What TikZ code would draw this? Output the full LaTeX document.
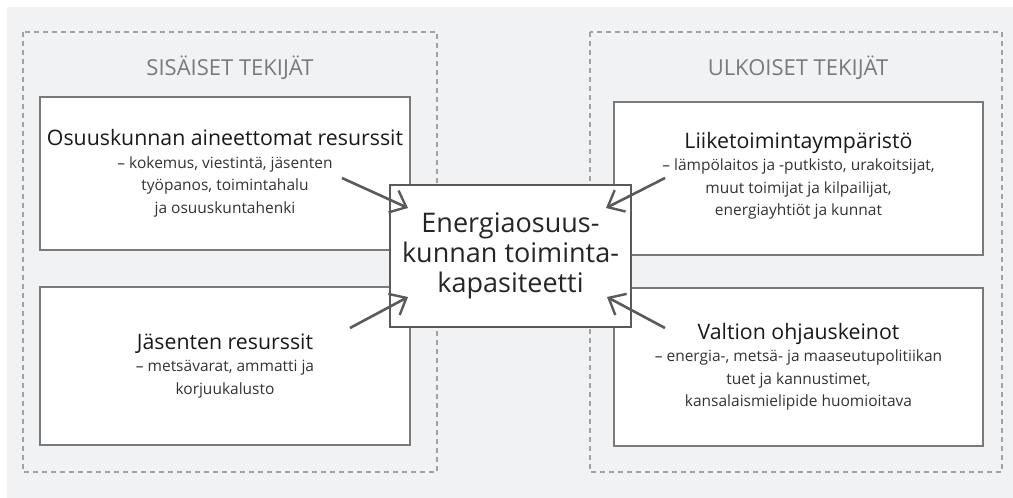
\documentclass[tikz,border=0pt]{standalone}
\usepackage{fontspec}
\setmainfont{Open Sans}
\usepackage{tikz}
\usetikzlibrary{positioning,arrows.meta}
\definecolor{panelgray}{HTML}{F1F2F4}
\definecolor{dashgray}{HTML}{A2A2A2}
\definecolor{boxgray}{HTML}{7A7A7A}
\definecolor{arrowgray}{HTML}{5A5A5A}
\definecolor{textgray}{HTML}{333333}
\tikzset{
  % --- frames ------------------------------------------------------------------
  group/.style={draw=dashgray,line width=1.2pt,dash pattern=on 5pt off 4pt},
  grouplab/.style={font=\fontsize{22}{24}\selectfont,text=boxgray,inner sep=0pt},
  % --- factor boxes ----------------------------------------------------------
  factorbox/.style={rectangle,draw=boxgray,line width=1.3pt,fill=white,
                    align=center,inner sep=0pt,text=textgray,
                    font=\fontsize{15.5}{22.5}\selectfont},
  core/.style={rectangle,draw=arrowgray,line width=1.5pt,fill=white,
               align=center,inner sep=0pt,text=black!85,
               minimum width=241pt,minimum height=142pt,
               font=\fontsize{27}{30}\selectfont},
  % --- influences ------------------------------------------------------------
  infl/.style={-{Straight Barb[length=14pt,width=24pt,line width=2.4pt]},
               arrowgray,line width=2.6pt},
}
\newcommand{\ftitle}[1]{{\fontsize{21.3}{25}\selectfont\color{black!90}#1}\\}

\begin{document}
\begin{tikzpicture}[x=1pt,y=-1pt]
  \useasboundingbox (0,0) rectangle (1013,498);
  \fill[panelgray] (7,7) rectangle (1013,498);

  \draw[group] (23,32) rectangle (437,472);
  \draw[group] (590,32) rectangle (1002,472);
  \node[grouplab] (sislab) at (230,68) {SISÄISET TEKIJÄT};
  \node[grouplab] (ulklab) at (798,68) {ULKOISET TEKIJÄT};

  \node[factorbox,minimum width=370pt,minimum height=153pt] (aineet) at (225,173.5)
    {\ftitle{Osuuskunnan aineettomat resurssit}%
     – kokemus, viestintä, jäsenten\\työpanos, toimintahalu\\ja osuuskuntahenki};
  \node[factorbox,minimum width=370pt,minimum height=158pt] (jasen) at (225,366)
    {\ftitle{Jäsenten resurssit}%
     – metsävarat, ammatti ja\\korjuukalusto};
  \node[factorbox,minimum width=369pt,minimum height=153pt] (liike) at (798.5,178.5)
    {\mbox{}\\[-12pt]\ftitle{Liiketoimintaympäristö}%
     – lämpölaitos ja -putkisto, urakoitsijat,\\muut toimijat ja kilpailijat,\\energiayhtiöt ja kunnat};
  \node[factorbox,minimum width=369pt,minimum height=158pt] (valtio) at (798.5,367)
    {\ftitle{Valtion ohjauskeinot}%
     – energia-, metsä- ja maaseutupolitiikan\\tuet ja kannustimet,\\kansalaismielipide huomioitava};

  \node[core] (kapa) at (510.5,256) {Energiaosuus-\\kunnan toiminta-\\kapasiteetti};

  \coordinate (a1) at (342,178);  \coordinate (t1) at (408,208);
  \coordinate (a2) at (350,328);  \coordinate (t2) at (408,297);
  \coordinate (a3) at (665,178);  \coordinate (t3) at (606,208);
  \coordinate (a4) at (665,328);  \coordinate (t4) at (607,297);
  \draw[infl] (a1) -- (t1);
  \draw[infl] (a2) -- (t2);
  \draw[infl] (a3) -- (t3);
  \draw[infl] (a4) -- (t4);
\end{tikzpicture}
\end{document}
